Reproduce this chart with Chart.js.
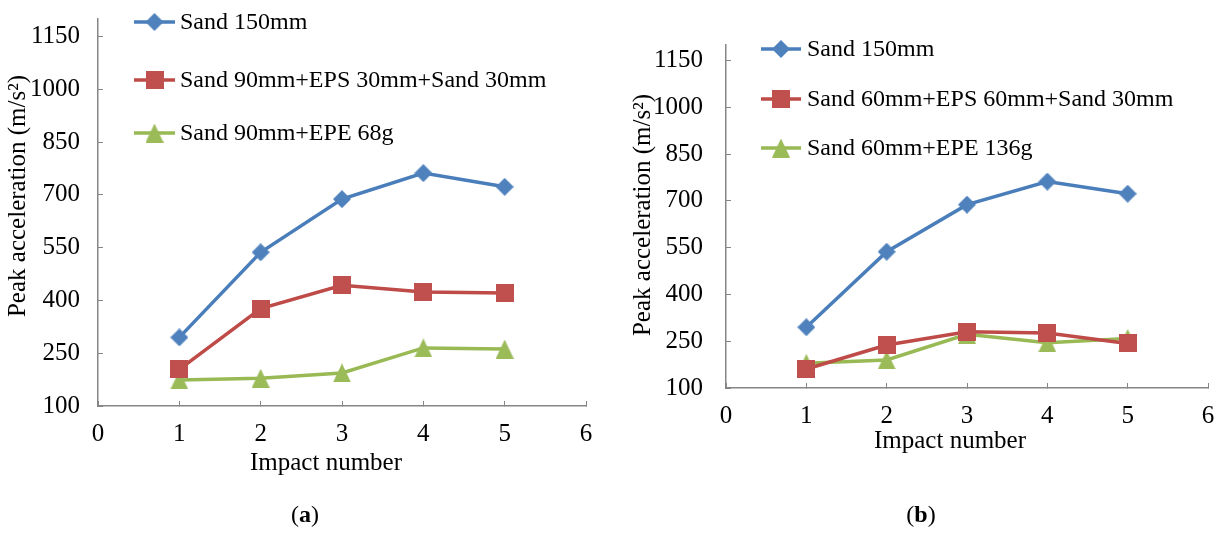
<!DOCTYPE html>
<html><head><meta charset="utf-8">
<script src="https://cdn.jsdelivr.net/npm/chart.js@4.4.0/dist/chart.umd.min.js"></script>
<style>
html,body{margin:0;padding:0;background:#fff;}
body{width:1222px;height:534px;position:relative;overflow:hidden;}
.wrap{position:absolute;top:0;width:611px;height:534px;}
.cap{position:absolute;top:501px;font-family:"Liberation Serif",serif;font-size:24px;color:#000;transform:translateX(-50%);white-space:nowrap;}
</style></head><body>
<div class="wrap" style="left:0"><canvas id="ca" width="611" height="534"></canvas></div>
<div class="wrap" style="left:611px"><canvas id="cb" width="611" height="534"></canvas></div>
<div class="cap" style="left:305px">(<b>a</b>)</div>
<div class="cap" style="left:921px">(<b>b</b>)</div>
<script>
// ---- data ----
const impactNumbers = [1, 2, 3, 4, 5];
const xTicks = [0, 1, 2, 3, 4, 5, 6];
const yTicks = [100, 250, 400, 550, 700, 850, 1000, 1150];
const sand150 = [295, 537, 688, 762, 723];
const sandEps_a = [204, 377, 443, 424, 421];
const sandEpe_a = [174, 179, 194, 265, 262];
const sandEps_b = [161, 238, 280, 276, 243];
const sandEpe_b = [179, 190, 272, 245, 259];
const labels_a = ['Sand 150mm', 'Sand 90mm+EPS 30mm+Sand 30mm', 'Sand 90mm+EPE 68g'];
const labels_b = ['Sand 150mm', 'Sand 60mm+EPS 60mm+Sand 30mm', 'Sand 60mm+EPE 136g'];
const yTitle = 'Peak acceleration (m/s\u00B2)';
const xTitle = 'Impact number';

// ---- styles ----
const FONT = '"Liberation Serif", "Times New Roman", serif';
const AXIS = '#868686';
const colors = ['#4A7EBB', '#BE4B48', '#98B954'];
const markColors = ['#4F81BD', '#C0504D', '#9BBB59'];

function mk(w, h, color, draw) {
  const c = document.createElement('canvas');
  c.width = w; c.height = h;
  const g = c.getContext('2d');
  g.fillStyle = color;
  g.beginPath(); draw(g, w, h); g.closePath(); g.fill();
  return c;
}
const markers = [
  mk(18, 18, markColors[0], (g, w, h) => { g.moveTo(w/2, 0); g.lineTo(w, h/2); g.lineTo(w/2, h); g.lineTo(0, h/2); }),
  mk(18, 18, markColors[1], (g, w, h) => { g.rect(0, 0, w, h); }),
  mk(18, 19, markColors[2], (g, w, h) => { g.moveTo(w/2, 0); g.lineTo(w, h); g.lineTo(0, h); })
];

const decor = {
  id: 'decor',
  afterDraw(chart, args, o) {
    const ctx = chart.ctx;
    ctx.save();
    ctx.fillStyle = '#000';
    ctx.font = '25px ' + FONT;
    ctx.textAlign = 'center';
    ctx.textBaseline = 'middle';
    ctx.fillText(xTitle, o.xt[0], o.xt[1]);
    ctx.save();
    ctx.translate(o.yt[0], o.yt[1]);
    ctx.rotate(-Math.PI / 2);
    ctx.fillText(yTitle, 0, 0);
    ctx.restore();
    // legend
    chart.data.datasets.forEach((ds, i) => {
      const y = o.rows[i];
      ctx.strokeStyle = ds.borderColor;
      ctx.lineWidth = 3.5;
      ctx.beginPath(); ctx.moveTo(o.lx0, y); ctx.lineTo(o.lx1, y); ctx.stroke();
      const m = markers[i];
      ctx.drawImage(m, (o.lx0 + o.lx1) / 2 - m.width / 2, y - m.height / 2);
      ctx.fillStyle = '#000';
      ctx.font = '24px ' + FONT;
      ctx.textAlign = 'left';
      ctx.textBaseline = 'middle';
      ctx.fillText(ds.label, o.tx, y + 1);
    });
    ctx.restore();
  }
};

function build(id, labels, series, g) {
  const datasets = series.map((vals, i) => ({
    label: labels[i],
    data: impactNumbers.map((x, k) => ({ x: x, y: vals[k] })),
    borderColor: colors[i],
    borderWidth: 3.5,
    pointStyle: markers[i],
    pointRadius: 9,
    tension: 0,
    fill: false
  }));
  return new Chart(document.getElementById(id), {
    type: 'line',
    data: { datasets },
    plugins: [decor],
    options: {
      responsive: false,
      animation: false,
      events: [],
      layout: { padding: { top: g.top, right: g.right, left: 0, bottom: 0 } },
      plugins: { legend: { display: false }, tooltip: { enabled: false }, decor: g.decor },
      scales: {
        x: {
          type: 'linear', min: 0, max: 6,
          afterBuildTicks: s => { s.ticks = xTicks.map(v => ({ value: v })); },
          afterFit: s => { s.height = g.xh; s.paddingLeft = 0; s.paddingRight = 0; },
          ticks: { color: '#000', font: { family: FONT, size: 25 }, padding: 18, maxRotation: 0,
                   callback: v => String(v) },
          grid: { drawOnChartArea: false, drawTicks: true, tickLength: -5, color: AXIS, lineWidth: 1 },
          border: { display: true, color: AXIS, width: 1.5 }
        },
        y: {
          type: 'linear', min: 100, max: 1200,
          afterBuildTicks: s => { s.ticks = yTicks.map(v => ({ value: v })); },
          afterFit: s => { s.width = g.yw; s.paddingTop = 0; s.paddingBottom = 0; },
          ticks: { color: '#000', font: { family: FONT, size: 25 }, padding: g.yp,
                   callback: v => String(v) },
          grid: { drawOnChartArea: false, drawTicks: true, tickLength: -5, color: AXIS, lineWidth: 1 },
          border: { display: true, color: AXIS, width: 1.5 }
        }
      }
    }
  });
}

build('ca', labels_a, [sand150, sandEps_a, sandEpe_a], {
  top: 19, right: 25, xh: 128, yw: 98, yp: 23,
  decor: { xt: [326, 463], yt: [18, 196], lx0: 134, lx1: 175, tx: 180, rows: [22, 80, 133] }
});
build('cb', labels_b, [sand150, sandEps_b, sandEpe_b], {
  top: 45, right: 14, xh: 146, yw: 115, yp: 28,
  decor: { xt: [339, 441], yt: [32, 215], lx0: 150, lx1: 190, tx: 196, rows: [49, 99, 148] }
});
</script>
</body></html>
